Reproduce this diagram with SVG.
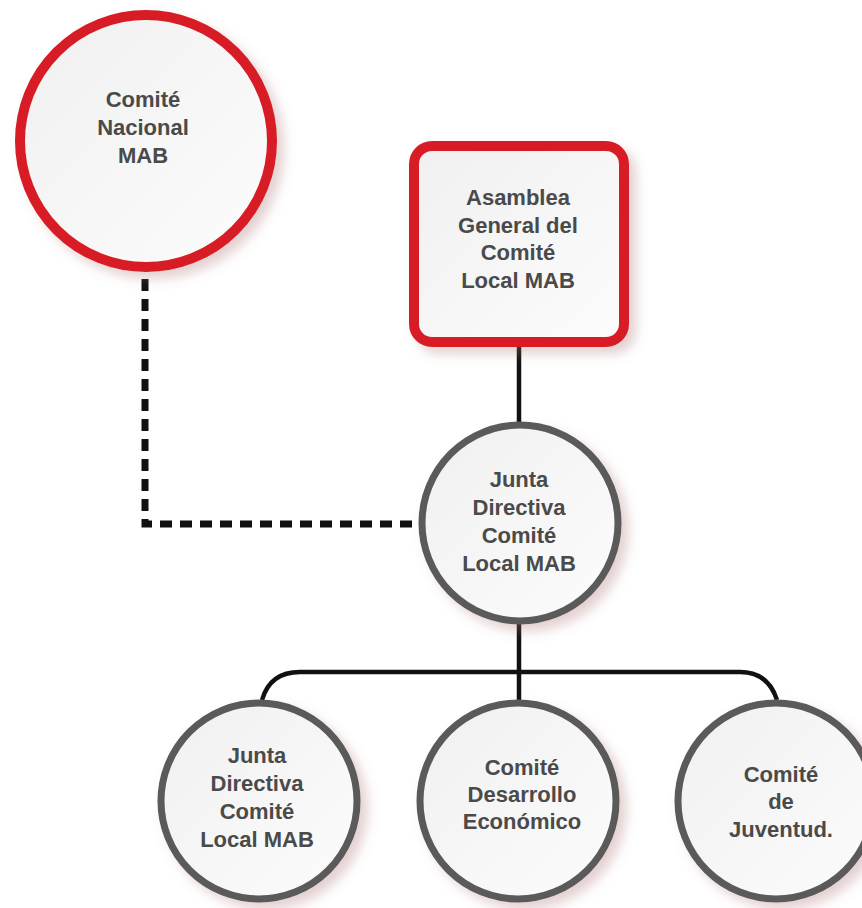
<svg xmlns="http://www.w3.org/2000/svg" width="862" height="908" viewBox="0 0 862 908">
<style>
.lbl{font-family:"Liberation Sans",Arial,sans-serif;font-weight:bold;font-size:22px;fill:#4a4a4a;text-anchor:middle}
.red{fill:url(#fillg);stroke:#d71f27;stroke-width:10}
.gray{fill:url(#fillg);stroke:#5a5a5a;stroke-width:7}
.conn{fill:none;stroke:#111;stroke-width:4.5}
.dash{fill:none;stroke:#111;stroke-width:7;stroke-dasharray:12 8}
</style>
<defs>
<linearGradient id="fillg" x1="0" y1="0" x2="1" y2="1">
<stop offset="0" stop-color="#f0f0f0"/>
<stop offset="1" stop-color="#fcfcfc"/>
</linearGradient>
<filter id="sh" x="-20%" y="-20%" width="150%" height="150%">
<feDropShadow dx="7" dy="7" stdDeviation="6" flood-color="#b07878" flood-opacity="0.35"/>
</filter>
</defs>
<rect width="862" height="908" fill="#ffffff"/>
<g id="connectors">
<path class="dash" d="M145,279 V524 H416"/>
<path class="conn" d="M519,346 V424"/>
<path class="conn" d="M519,623 V700"/>
<path class="conn" d="M262,700 Q270,672 300,672 H740 Q768,672 777,700"/>
</g>
<g id="comite-nacional">
<circle class="red" cx="146" cy="141" r="126" filter="url(#sh)"/>
<text class="lbl" x="143" y="107">Comité</text>
<text class="lbl" x="143" y="135">Nacional</text>
<text class="lbl" x="143" y="163">MAB</text>
</g>
<g id="asamblea">
<rect class="red" x="414" y="146" width="210" height="196" rx="18" filter="url(#sh)"/>
<text class="lbl" x="518" y="205">Asamblea</text>
<text class="lbl" x="518" y="233">General del</text>
<text class="lbl" x="518" y="260">Comité</text>
<text class="lbl" x="518" y="288">Local MAB</text>
</g>
<g id="junta-directiva">
<circle class="gray" cx="520" cy="523" r="98" filter="url(#sh)"/>
<text class="lbl" x="519" y="487">Junta</text>
<text class="lbl" x="519" y="515">Directiva</text>
<text class="lbl" x="519" y="543">Comité</text>
<text class="lbl" x="519" y="571">Local MAB</text>
</g>
<g id="junta-directiva-2">
<circle class="gray" cx="259" cy="801" r="98" filter="url(#sh)"/>
<text class="lbl" x="257" y="763">Junta</text>
<text class="lbl" x="257" y="791">Directiva</text>
<text class="lbl" x="257" y="819">Comité</text>
<text class="lbl" x="257" y="847">Local MAB</text>
</g>
<g id="desarrollo">
<circle class="gray" cx="518" cy="801" r="98" filter="url(#sh)"/>
<text class="lbl" x="522" y="775">Comité</text>
<text class="lbl" x="522" y="802">Desarrollo</text>
<text class="lbl" x="522" y="829">Económico</text>
</g>
<g id="juventud">
<circle class="gray" cx="776" cy="801" r="98" filter="url(#sh)"/>
<text class="lbl" x="781" y="782">Comité</text>
<text class="lbl" x="781" y="809">de</text>
<text class="lbl" x="781" y="837">Juventud.</text>
</g>
</svg>
